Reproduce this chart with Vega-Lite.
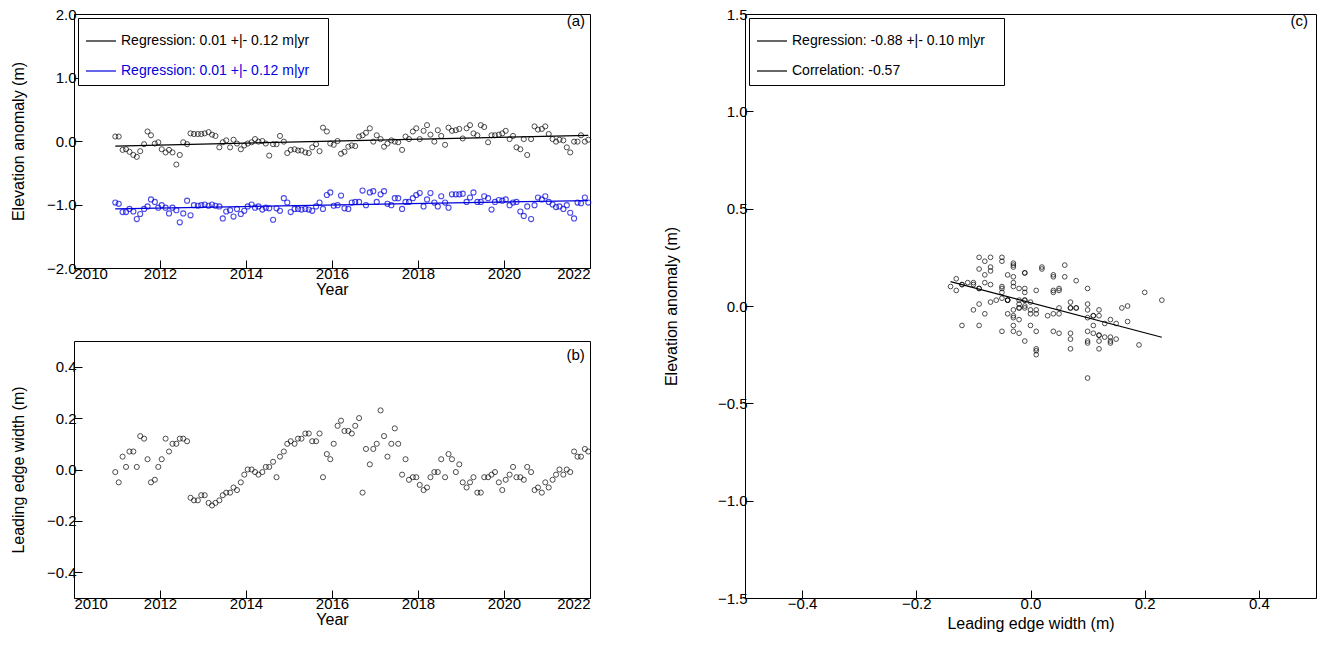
{
  "$schema": "https://vega.github.io/schema/vega-lite/v6.json",
  "background": "white",
  "padding": {"left": 9, "top": 6, "right": 0, "bottom": 0},
  "config": {
    "font": "Liberation Sans",
    "view": {"stroke": "black", "strokeWidth": 1},
    "axis": {
      "labelFont": "Liberation Sans", "titleFont": "Liberation Sans",
      "labelFontSize": 15, "titleFontSize": 16, "titleFontWeight": "normal",
      "labelColor": "black", "titleColor": "black",
      "grid": false, "domain": false, "tickColor": "black", "tickSize": -8, "labelPadding": 6
    },
    "legend": {
      "orient": "top-left", "offset": 4, "strokeColor": "black", "fillColor": "white",
      "padding": 7, "symbolType": "stroke", "symbolSize": 900, "symbolStrokeWidth": 1.2,
      "labelFont": "Liberation Sans", "labelFontSize": 14, "labelLimit": 400, "rowPadding": 7
    },
    "title": {"anchor": "end", "fontSize": 15, "fontWeight": "normal", "font": "Liberation Sans", "offset": -22, "dx": -8}
  },
  "datasets": {
    "series": [
      {"t": 2010.96, "a": 0.07, "b": -0.97, "w": -0.01},
      {"t": 2011.04, "a": 0.07, "b": -0.99, "w": -0.05},
      {"t": 2011.13, "a": -0.14, "b": -1.12, "w": 0.05},
      {"t": 2011.21, "a": -0.13, "b": -1.12, "w": 0.01},
      {"t": 2011.29, "a": -0.17, "b": -1.07, "w": 0.07},
      {"t": 2011.38, "a": -0.22, "b": -1.11, "w": 0.07},
      {"t": 2011.46, "a": -0.25, "b": -1.23, "w": 0.01},
      {"t": 2011.54, "a": -0.16, "b": -1.15, "w": 0.13},
      {"t": 2011.63, "a": -0.05, "b": -1.07, "w": 0.12},
      {"t": 2011.71, "a": 0.15, "b": -1.03, "w": 0.04},
      {"t": 2011.79, "a": 0.09, "b": -0.92, "w": -0.05},
      {"t": 2011.88, "a": -0.04, "b": -0.96, "w": -0.04},
      {"t": 2011.96, "a": -0.02, "b": -1.05, "w": 0.01},
      {"t": 2012.04, "a": -0.13, "b": -1.01, "w": 0.04},
      {"t": 2012.13, "a": -0.18, "b": -1.05, "w": 0.12},
      {"t": 2012.21, "a": -0.14, "b": -1.14, "w": 0.07},
      {"t": 2012.29, "a": -0.18, "b": -1.05, "w": 0.10},
      {"t": 2012.38, "a": -0.37, "b": -1.09, "w": 0.10},
      {"t": 2012.46, "a": -0.22, "b": -1.28, "w": 0.12},
      {"t": 2012.54, "a": -0.02, "b": -1.14, "w": 0.12},
      {"t": 2012.63, "a": -0.05, "b": -0.94, "w": 0.11},
      {"t": 2012.71, "a": 0.12, "b": -1.17, "w": -0.11},
      {"t": 2012.79, "a": 0.11, "b": -1.01, "w": -0.12},
      {"t": 2012.88, "a": 0.11, "b": -1.02, "w": -0.12},
      {"t": 2012.96, "a": 0.11, "b": -1.01, "w": -0.10},
      {"t": 2013.04, "a": 0.12, "b": -1.00, "w": -0.10},
      {"t": 2013.13, "a": 0.14, "b": -1.02, "w": -0.13},
      {"t": 2013.21, "a": 0.10, "b": -1.00, "w": -0.14},
      {"t": 2013.29, "a": 0.08, "b": -1.02, "w": -0.13},
      {"t": 2013.38, "a": -0.10, "b": -1.03, "w": -0.12},
      {"t": 2013.46, "a": -0.02, "b": -1.22, "w": -0.10},
      {"t": 2013.54, "a": 0.01, "b": -1.11, "w": -0.09},
      {"t": 2013.63, "a": -0.10, "b": -1.09, "w": -0.09},
      {"t": 2013.71, "a": 0.02, "b": -1.19, "w": -0.07},
      {"t": 2013.79, "a": -0.04, "b": -1.07, "w": -0.08},
      {"t": 2013.88, "a": -0.13, "b": -1.15, "w": -0.05},
      {"t": 2013.96, "a": -0.07, "b": -1.10, "w": -0.02},
      {"t": 2014.04, "a": -0.04, "b": -1.03, "w": 0.00},
      {"t": 2014.13, "a": -0.02, "b": -1.00, "w": 0.00},
      {"t": 2014.21, "a": 0.03, "b": -1.05, "w": -0.01},
      {"t": 2014.29, "a": -0.01, "b": -1.03, "w": -0.02},
      {"t": 2014.38, "a": 0.00, "b": -1.08, "w": -0.01},
      {"t": 2014.46, "a": -0.04, "b": -1.05, "w": 0.01},
      {"t": 2014.54, "a": -0.23, "b": -1.06, "w": 0.01},
      {"t": 2014.63, "a": -0.05, "b": -1.24, "w": 0.03},
      {"t": 2014.71, "a": -0.05, "b": -1.06, "w": -0.03},
      {"t": 2014.79, "a": 0.08, "b": -1.10, "w": 0.05},
      {"t": 2014.88, "a": -0.01, "b": -0.90, "w": 0.07},
      {"t": 2014.96, "a": -0.19, "b": -0.97, "w": 0.10},
      {"t": 2015.04, "a": -0.14, "b": -1.12, "w": 0.11},
      {"t": 2015.13, "a": -0.13, "b": -1.07, "w": 0.10},
      {"t": 2015.21, "a": -0.15, "b": -1.07, "w": 0.12},
      {"t": 2015.29, "a": -0.15, "b": -1.08, "w": 0.12},
      {"t": 2015.38, "a": -0.18, "b": -1.07, "w": 0.14},
      {"t": 2015.46, "a": -0.19, "b": -1.08, "w": 0.14},
      {"t": 2015.54, "a": -0.10, "b": -1.10, "w": 0.11},
      {"t": 2015.63, "a": -0.05, "b": -1.03, "w": 0.11},
      {"t": 2015.71, "a": -0.16, "b": -0.97, "w": 0.14},
      {"t": 2015.79, "a": 0.21, "b": -1.07, "w": -0.03},
      {"t": 2015.88, "a": 0.15, "b": -0.85, "w": 0.06},
      {"t": 2015.96, "a": -0.04, "b": -0.81, "w": 0.04},
      {"t": 2016.04, "a": -0.06, "b": -1.02, "w": 0.10},
      {"t": 2016.13, "a": 0.00, "b": -1.01, "w": 0.17},
      {"t": 2016.21, "a": -0.20, "b": -0.86, "w": 0.19},
      {"t": 2016.29, "a": -0.17, "b": -1.06, "w": 0.15},
      {"t": 2016.38, "a": -0.09, "b": -1.07, "w": 0.15},
      {"t": 2016.46, "a": -0.07, "b": -0.97, "w": 0.14},
      {"t": 2016.54, "a": -0.08, "b": -0.96, "w": 0.17},
      {"t": 2016.63, "a": 0.07, "b": -0.96, "w": 0.20},
      {"t": 2016.71, "a": 0.09, "b": -0.78, "w": -0.09},
      {"t": 2016.79, "a": 0.13, "b": -1.01, "w": 0.08},
      {"t": 2016.88, "a": 0.20, "b": -0.81, "w": 0.02},
      {"t": 2016.96, "a": -0.01, "b": -0.79, "w": 0.08},
      {"t": 2017.04, "a": 0.09, "b": -0.96, "w": 0.10},
      {"t": 2017.13, "a": 0.03, "b": -0.84, "w": 0.23},
      {"t": 2017.21, "a": -0.09, "b": -0.79, "w": 0.13},
      {"t": 2017.29, "a": -0.04, "b": -0.99, "w": 0.05},
      {"t": 2017.38, "a": 0.01, "b": -1.01, "w": 0.10},
      {"t": 2017.46, "a": -0.01, "b": -0.90, "w": 0.16},
      {"t": 2017.54, "a": -0.02, "b": -0.90, "w": 0.10},
      {"t": 2017.63, "a": -0.14, "b": -1.07, "w": -0.02},
      {"t": 2017.71, "a": 0.07, "b": -0.96, "w": 0.04},
      {"t": 2017.79, "a": 0.03, "b": -0.96, "w": -0.04},
      {"t": 2017.88, "a": 0.15, "b": -0.90, "w": -0.03},
      {"t": 2017.96, "a": 0.20, "b": -0.85, "w": -0.03},
      {"t": 2018.04, "a": 0.03, "b": -0.82, "w": -0.06},
      {"t": 2018.13, "a": 0.16, "b": -1.03, "w": -0.08},
      {"t": 2018.21, "a": 0.25, "b": -0.92, "w": -0.07},
      {"t": 2018.29, "a": 0.10, "b": -0.82, "w": -0.03},
      {"t": 2018.38, "a": -0.01, "b": -0.97, "w": -0.01},
      {"t": 2018.46, "a": 0.17, "b": -1.03, "w": -0.01},
      {"t": 2018.54, "a": 0.08, "b": -0.87, "w": 0.04},
      {"t": 2018.63, "a": -0.06, "b": -0.97, "w": -0.03},
      {"t": 2018.71, "a": 0.21, "b": -1.05, "w": 0.06},
      {"t": 2018.79, "a": 0.16, "b": -0.84, "w": 0.04},
      {"t": 2018.88, "a": 0.17, "b": -0.84, "w": -0.01},
      {"t": 2018.96, "a": 0.19, "b": -0.84, "w": 0.02},
      {"t": 2019.04, "a": 0.04, "b": -0.83, "w": -0.05},
      {"t": 2019.13, "a": 0.20, "b": -0.96, "w": -0.07},
      {"t": 2019.21, "a": 0.25, "b": -0.89, "w": -0.05},
      {"t": 2019.29, "a": 0.12, "b": -0.81, "w": -0.03},
      {"t": 2019.38, "a": 0.09, "b": -0.96, "w": -0.09},
      {"t": 2019.46, "a": 0.25, "b": -0.96, "w": -0.09},
      {"t": 2019.54, "a": 0.22, "b": -0.87, "w": -0.03},
      {"t": 2019.63, "a": -0.02, "b": -0.90, "w": -0.03},
      {"t": 2019.71, "a": 0.09, "b": -1.08, "w": -0.02},
      {"t": 2019.79, "a": 0.09, "b": -0.96, "w": -0.01},
      {"t": 2019.88, "a": 0.10, "b": -0.93, "w": -0.05},
      {"t": 2019.96, "a": 0.12, "b": -0.94, "w": -0.08},
      {"t": 2020.04, "a": 0.16, "b": -0.92, "w": -0.04},
      {"t": 2020.13, "a": 0.03, "b": -1.01, "w": -0.02},
      {"t": 2020.21, "a": 0.08, "b": -0.97, "w": 0.01},
      {"t": 2020.29, "a": -0.10, "b": -0.96, "w": -0.03},
      {"t": 2020.38, "a": -0.13, "b": -1.11, "w": -0.03},
      {"t": 2020.46, "a": 0.03, "b": -1.18, "w": -0.04},
      {"t": 2020.54, "a": -0.22, "b": -1.03, "w": 0.01},
      {"t": 2020.63, "a": 0.03, "b": -1.23, "w": -0.01},
      {"t": 2020.71, "a": 0.23, "b": -1.01, "w": -0.08},
      {"t": 2020.79, "a": 0.18, "b": -0.89, "w": -0.07},
      {"t": 2020.88, "a": 0.19, "b": -0.92, "w": -0.09},
      {"t": 2020.96, "a": 0.23, "b": -0.87, "w": -0.05},
      {"t": 2021.04, "a": 0.11, "b": -0.96, "w": -0.07},
      {"t": 2021.13, "a": 0.03, "b": -1.00, "w": -0.04},
      {"t": 2021.21, "a": -0.01, "b": -1.04, "w": -0.02},
      {"t": 2021.29, "a": 0.02, "b": -1.03, "w": 0.00},
      {"t": 2021.38, "a": 0.01, "b": -1.07, "w": -0.02},
      {"t": 2021.46, "a": -0.10, "b": -1.01, "w": 0.00},
      {"t": 2021.54, "a": -0.18, "b": -1.13, "w": -0.01},
      {"t": 2021.63, "a": -0.01, "b": -1.22, "w": 0.07},
      {"t": 2021.71, "a": -0.01, "b": -0.97, "w": 0.05},
      {"t": 2021.79, "a": 0.09, "b": -0.98, "w": 0.05},
      {"t": 2021.88, "a": -0.01, "b": -0.89, "w": 0.08},
      {"t": 2021.96, "a": 0.02, "b": -0.97, "w": 0.07}
    ]
  },
  "data": {"name": "series"},
  "hconcat": [
    {
      "vconcat": [
        {
          "width": 516, "height": 254,
          "title": "(a)",
          "layer": [
            {
              "mark": {"type": "point", "shape": "circle", "filled": false, "size": 26, "strokeWidth": 1, "color": "black"},
              "encoding": {
                "x": {"field": "t", "type": "quantitative", "scale": {"domain": [2010, 2022], "nice": false}, "axis": {"title": "Year", "format": "d", "values": [2010, 2012, 2014, 2016, 2018, 2020, 2022], "titlePadding": 0}},
                "y": {"field": "a", "type": "quantitative", "scale": {"domain": [-2, 2], "nice": false}, "axis": {"title": "Elevation anomaly (m)", "format": ".1f", "values": [-2, -1, 0, 1, 2], "titlePadding": 20}}
              }
            },
            {
              "mark": {"type": "point", "shape": "circle", "filled": false, "size": 26, "strokeWidth": 1.1, "color": "#0000dd"},
              "encoding": {
                "x": {"field": "t", "type": "quantitative"},
                "y": {"field": "b", "type": "quantitative"}
              }
            },
            {
              "transform": [{"regression": "a", "on": "t"}],
              "mark": {"type": "line", "strokeWidth": 1.2},
              "encoding": {
                "x": {"field": "t", "type": "quantitative"},
                "y": {"field": "a", "type": "quantitative"},
                "color": {"datum": "Regression:   0.01 +|-  0.12 m|yr"}
              }
            },
            {
              "transform": [{"regression": "b", "on": "t"}],
              "mark": {"type": "line", "strokeWidth": 1.2},
              "encoding": {
                "x": {"field": "t", "type": "quantitative"},
                "y": {"field": "b", "type": "quantitative"},
                "color": {
                  "datum": "Regression:   0.01 +|-  0.12 m|yr ",
                  "scale": {"domain": ["Regression:   0.01 +|-  0.12 m|yr", "Regression:   0.01 +|-  0.12 m|yr "], "range": ["black", "#0000dd"]},
                  "legend": {"title": null, "encode": {"labels": {"update": {"fill": {"signal": "datum.index === 1 ? '#0000dd' : 'black'"}}}}}
                }
              }
            }
          ]
        },
        {
          "width": 516, "height": 257,
          "title": "(b)",
          "mark": {"type": "point", "shape": "circle", "filled": false, "size": 26, "strokeWidth": 1, "color": "black"},
          "encoding": {
            "x": {"field": "t", "type": "quantitative", "scale": {"domain": [2010, 2022], "nice": false}, "axis": {"title": "Year", "format": "d", "values": [2010, 2012, 2014, 2016, 2018, 2020, 2022], "titlePadding": 0}},
            "y": {"field": "w", "type": "quantitative", "scale": {"domain": [-0.5, 0.5], "nice": false}, "axis": {"title": "Leading edge width (m)", "format": ".1f", "values": [-0.4, -0.2, 0, 0.2, 0.4], "titlePadding": 20}}
          }
        }
      ],
      "spacing": 42,
      "resolve": {"scale": {"color": "independent"}, "legend": {"color": "independent"}}
    },
    {
      "width": 571, "height": 584,
      "title": "(c)",
      "layer": [
        {
          "mark": {"type": "point", "shape": "circle", "filled": false, "size": 22, "strokeWidth": 1, "color": "black"},
          "encoding": {
            "x": {"field": "w", "type": "quantitative", "scale": {"domain": [-0.5, 0.5], "nice": false}, "axis": {"title": "Leading edge width (m)", "format": ".1f", "values": [-0.4, -0.2, 0, 0.2, 0.4]}},
            "y": {"field": "a", "type": "quantitative", "scale": {"domain": [-1.5, 1.5], "nice": false}, "axis": {"title": "Elevation anomaly (m)", "format": ".1f", "values": [-1.5, -1, -0.5, 0, 0.5, 1, 1.5], "titlePadding": 38}}
          }
        },
        {
          "transform": [{"regression": "a", "on": "w"}],
          "mark": {"type": "line", "strokeWidth": 1.2},
          "encoding": {
            "x": {"field": "w", "type": "quantitative"},
            "y": {"field": "a", "type": "quantitative"},
            "color": {
              "datum": "Regression:   -0.88 +|-  0.10 m|yr",
              "scale": {"domain": ["Regression:   -0.88 +|-  0.10 m|yr", "Correlation: -0.57"], "range": ["black", "black"]},
              "legend": {"title": null}
            }
          }
        }
      ]
    }
  ],
  "spacing": 68,
  "resolve": {"scale": {"color": "independent"}, "legend": {"color": "independent"}}
}
